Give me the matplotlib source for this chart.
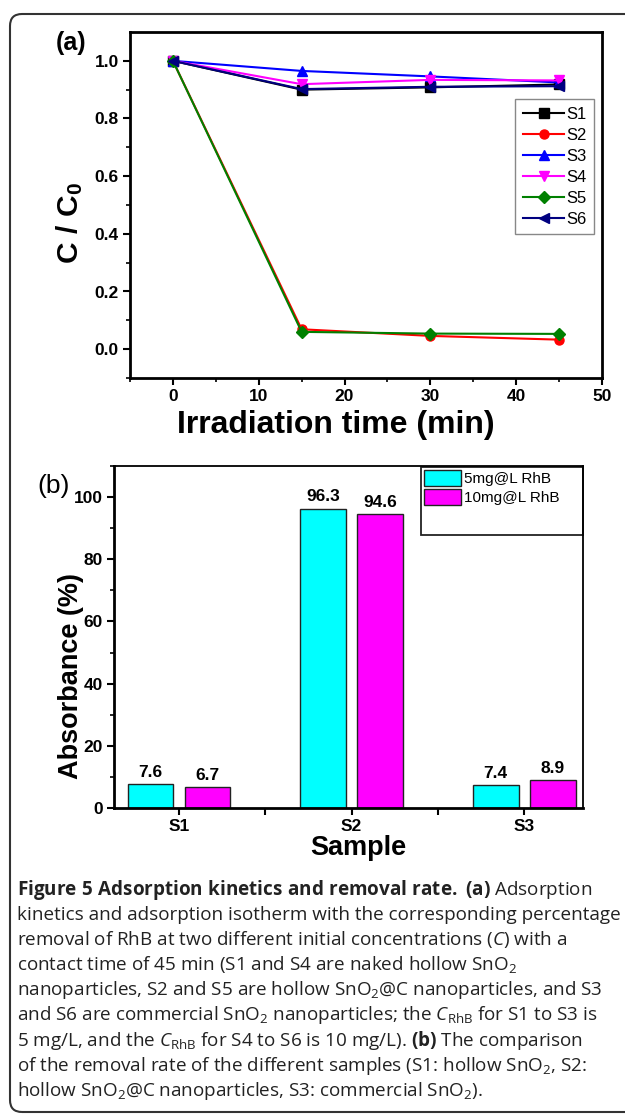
import matplotlib
matplotlib.use('Agg')
import matplotlib.pyplot as plt
from matplotlib.ticker import MultipleLocator, FixedLocator
from matplotlib.patches import FancyBboxPatch, Rectangle

plt.rcParams['mathtext.fontset'] = 'custom'
plt.rcParams['mathtext.rm'] = 'Open Sans'
plt.rcParams['mathtext.it'] = 'Open Sans:italic'
plt.rcParams['mathtext.bf'] = 'Open Sans:bold'
plt.rcParams['mathtext.sf'] = 'Liberation Sans:bold'

# ---------------- data ----------------
time_min = [0, 15, 30, 45]
series_names = ['S1', 'S2', 'S3', 'S4', 'S5', 'S6']
s1 = [1.0, 0.900, 0.908, 0.918]
s2 = [1.0, 0.069, 0.046, 0.033]
s3 = [1.0, 0.965, 0.946, 0.925]
s4 = [1.0, 0.919, 0.934, 0.932]
s5 = [1.0, 0.060, 0.054, 0.053]
s6 = [1.0, 0.902, 0.910, 0.912]

samples = ['S1', 'S2', 'S3']
rhb_5 = [7.6, 96.3, 7.4]
rhb_10 = [6.7, 94.6, 8.9]
bar_legend = ['5mg@L RhB', '10mg@L RhB']

caption_lines = [
    r"$\mathbf{Figure\ 5\ Adsorption\ kinetics\ and\ removal\ rate.\ (a)}$ Adsorption",
    "kinetics and adsorption isotherm with the corresponding percentage",
    r"removal of RhB at two different initial concentrations ($\mathit{C}$) with a",
    r"contact time of 45 min (S1 and S4 are naked hollow SnO$_2$",
    r"nanoparticles, S2 and S5 are hollow SnO$_2$@C nanoparticles, and S3",
    r"and S6 are commercial SnO$_2$ nanoparticles; the $\mathit{C}_{\mathrm{RhB}}$ for S1 to S3 is",
    r"5 mg/L, and the $\mathit{C}_{\mathrm{RhB}}$ for S4 to S6 is 10 mg/L). $\mathbf{(b)}$ The comparison",
    r"of the removal rate of the different samples (S1: hollow SnO$_2$, S2:",
    r"hollow SnO$_2$@C nanoparticles, S3: commercial SnO$_2$).",
]

W, H = 625, 1118
fig = plt.figure(figsize=(W / 100, H / 100), dpi=100)

# outer rounded frame
frame = FancyBboxPatch((0.10, 0.06), 6.45, 10.98,
                       boxstyle="round,pad=0,rounding_size=0.12",
                       transform=fig.dpi_scale_trans, fill=False,
                       edgecolor='#333333', linewidth=1.5)
fig.patches.append(frame)

TICKFONT = dict(family='Liberation Sans', weight='bold', size=12.5)

def style_axes(ax, lw_lb=2.0, lw_tr=2.0):
    for side in ['left', 'bottom']:
        ax.spines[side].set_linewidth(lw_lb)
    for side in ['top', 'right']:
        ax.spines[side].set_linewidth(lw_tr)
    ax.tick_params(which='major', direction='out', length=5, width=1.5, pad=3,
                   top=False, right=False)
    ax.tick_params(which='minor', direction='out', length=3, width=1.2,
                   top=False, right=False)
    for lab in ax.get_xticklabels() + ax.get_yticklabels():
        lab.set_fontproperties(matplotlib.font_manager.FontProperties(**TICKFONT))

# ---------------- panel (a) ----------------
axa = fig.add_axes([130 / W, 1 - 378 / H, 472 / W, 346 / H])
series = [s1, s2, s3, s4, s5, s6]
colors = ['#000000', '#FF0000', '#0000FF', '#FF00FF', '#008000', '#000080']
markers = ['s', 'o', '^', 'v', 'D', '<']
for name, vals, c, m in zip(series_names, series, colors, markers):
    axa.plot(time_min, vals, color=c, marker=m, markersize=6.5, linewidth=1.5,
             label=name)
axa.set_xlim(-5, 50)
axa.set_ylim(-0.1, 1.1)
axa.xaxis.set_major_locator(MultipleLocator(10))
axa.xaxis.set_minor_locator(MultipleLocator(5))
axa.yaxis.set_major_locator(FixedLocator([0.0, 0.2, 0.4, 0.6, 0.8, 1.0]))
axa.yaxis.set_minor_locator(FixedLocator([-0.1, 0.1, 0.3, 0.5, 0.7, 0.9]))
axa.yaxis.set_major_formatter(matplotlib.ticker.FormatStrFormatter('%.1f'))
style_axes(axa)
leg = axa.legend(loc='upper right', bbox_to_anchor=(0.983, 0.806),
                 borderaxespad=0, fancybox=False, framealpha=1,
                 edgecolor='#888888', numpoints=1, handlelength=2.5,
                 handletextpad=0.1, labelspacing=0.36, borderpad=0.45,
                 prop=dict(family='Liberation Sans', size=12))
leg.get_frame().set_linewidth(1.0)
axa.text((336 - 130) / 472, -(425 - 378) / 346, 'Irradiation time (min)',
         transform=axa.transAxes, ha='center', va='center',
         family='Liberation Sans', weight='bold', size=23)
axa.text((70 - 130) / 472, (378 - 223) / 346, r'$\mathsf{C\ /\ C_{0}}$',
         transform=axa.transAxes, ha='center', va='center', rotation=90,
         size=21.5)
fig.text(71 / W, 1 - 43 / H, '(a)', ha='center', va='center',
         family='Liberation Sans', weight='bold', size=18)

# ---------------- panel (b) ----------------
axb = fig.add_axes([114 / W, 1 - 808 / H, 469 / W, 342 / H])
x = list(range(len(samples)))
bw = 0.265
off = 0.165
b1 = axb.bar([i - off for i in x], rhb_5, width=bw, color='#00FFFF',
             edgecolor='#222222', linewidth=1.0, label=bar_legend[0])
b2 = axb.bar([i + off for i in x], rhb_10, width=bw, color='#FF00FF',
             edgecolor='#222222', linewidth=1.0, label=bar_legend[1])
for bars, vals in [(b1, rhb_5), (b2, rhb_10)]:
    axb.bar_label(bars, labels=[f'{v:.1f}' for v in vals], padding=3,
                  family='Liberation Sans', weight='bold', size=12.5)
axb.set_xlim(-0.376, 2.34)
axb.set_ylim(0, 110)
axb.set_xticks(x)
axb.set_xticklabels(samples)
axb.xaxis.set_minor_locator(FixedLocator([0.5, 1.5]))
axb.yaxis.set_major_locator(MultipleLocator(20))
axb.yaxis.set_minor_locator(MultipleLocator(10))
style_axes(axb, lw_lb=2.0, lw_tr=1.3)
axb.tick_params(axis='x', which='minor', length=5, width=1.5)

# legend frame (box drawn to the axes corner)
axb.add_patch(Rectangle(((421 - 114) / 469, (808 - 535) / 342),
                        (583 - 421) / 469, (535 - 467) / 342,
                        transform=axb.transAxes, fill=False,
                        edgecolor='#222222', linewidth=1.3, clip_on=False))
legb = axb.legend(loc='upper left',
                  bbox_to_anchor=((424 - 114) / 469, (808 - 470) / 342),
                  borderaxespad=0, frameon=False, handlelength=2.4,
                  handleheight=1.2, handletextpad=0.2, labelspacing=0.2,
                  borderpad=0.0,
                  prop=dict(family='Liberation Sans', size=11))
axb.text((358 - 114) / 469, -(848 - 808) / 342, 'Sample',
         transform=axb.transAxes, ha='center', va='center',
         family='Liberation Sans', weight='bold', size=19.5)
axb.text((71 - 114) / 469, (808 - 676) / 342, 'Absorbance (%)',
         transform=axb.transAxes, ha='center', va='center', rotation=90,
         family='Liberation Sans', weight='bold', size=19.5)
fig.text(54 / W, 1 - 486 / H, '(b)', ha='center', va='center',
         family='Liberation Sans', size=19)

# ---------------- caption ----------------
for i, line in enumerate(caption_lines):
    fig.text(17 / W, 1 - (895 + 25.1 * i) / H, line, ha='left', va='baseline',
             family='Open Sans', size=13.6, color='#222222')

fig.savefig('out.png', dpi=100)
